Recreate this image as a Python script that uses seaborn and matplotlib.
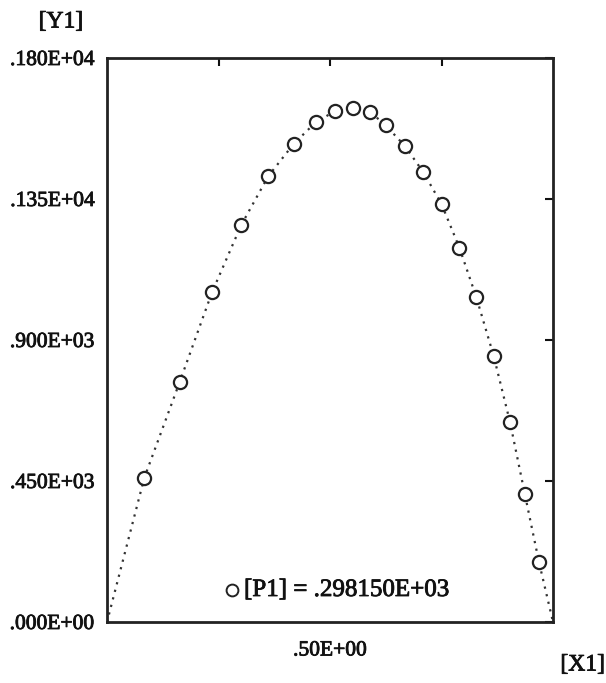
import matplotlib
matplotlib.use("Agg")
import matplotlib.pyplot as plt
import matplotlib.patheffects as pe
import seaborn as sns
import pandas as pd

# Data
x1 = [0.0836, 0.163, 0.2354, 0.301, 0.3617, 0.4186, 0.468, 0.512, 0.5516, 0.589,
      0.625, 0.668, 0.709, 0.750, 0.790, 0.828, 0.867, 0.9036, 0.9366, 0.9686]
y1 = [460, 766, 1052, 1267, 1423, 1526, 1595, 1631, 1639, 1629,
      1585, 1519, 1436, 1334, 1195, 1037, 849, 638, 410, 191]
curve_x = [0.0] + x1 + [1.0]
curve_y = [0.0] + y1 + [0.0]
y_ticks = [0, 450, 900, 1350, 1800]
y_tick_labels = [".000E+00", ".450E+03", ".900E+03", ".135E+04", ".180E+04"]
x_ticks = [0.25, 0.5, 0.75]
x_tick_labels = ["", ".50E+00", ""]
legend_label = "[P1] = .298150E+03"

sns.set_style("white")
plt.rcParams['font.family'] = ['Liberation Serif', 'DejaVu Serif']

TXT = "#111111"
bold_fx = [pe.withStroke(linewidth=0.6, foreground=TXT)]

fig = plt.figure(figsize=(6.06, 6.83), dpi=100)
ax = fig.add_axes([107/606, 1 - 622/683, (553-107)/606, (622-58)/683])

df_pts = pd.DataFrame({"x": x1, "y": y1})
df_curve = pd.DataFrame({"x": curve_x, "y": curve_y})

sns.lineplot(data=df_curve, x="x", y="y", ax=ax, color="#333333",
             linestyle=(0, (1, 2.5)), linewidth=1.6, sort=False)
sns.scatterplot(data=df_pts, x="x", y="y", ax=ax, marker="o", s=90,
                facecolor="white", edgecolor="#222222", linewidth=1.6, zorder=3)

ax.set_xlim(0, 1)
ax.set_ylim(0, 1800)
ax.set_xticks(x_ticks)
ax.set_xticklabels(x_tick_labels)
ax.set_yticks(y_ticks)
ax.set_yticklabels(y_tick_labels)
ax.set_xlabel("")
ax.set_ylabel("")
ax.tick_params(direction="in", length=6, width=1.5, top=True, right=True,
               labelsize=15.5, colors=TXT)
ax.tick_params(axis="x", pad=14)
ax.tick_params(axis="y", pad=9)
for lab in ax.get_xticklabels() + ax.get_yticklabels():
    lab.set_path_effects(bold_fx)
for s in ax.spines.values():
    s.set_linewidth(2)
    s.set_color("#222222")
    s.set_visible(True)

fig.text(61/606, 1 - 22/683, "[Y1]", ha="center", va="center", fontsize=17,
         color=TXT, path_effects=bold_fx)
fig.text(605/606, 1 - 665/683, "[X1]", ha="right", va="center", fontsize=17,
         color=TXT, path_effects=bold_fx)

# legend entry
ax.plot([232/606], [1 - 590/683], transform=fig.transFigure, marker="o", ms=8.5,
        mfc="white", mec="#222222", mew=1.4, clip_on=False)
fig.text(244/606, 1 - 590/683, legend_label, ha="left", va="center",
         fontsize=18, color=TXT, path_effects=bold_fx)

fig.savefig("out.png", dpi=100, facecolor="white")
